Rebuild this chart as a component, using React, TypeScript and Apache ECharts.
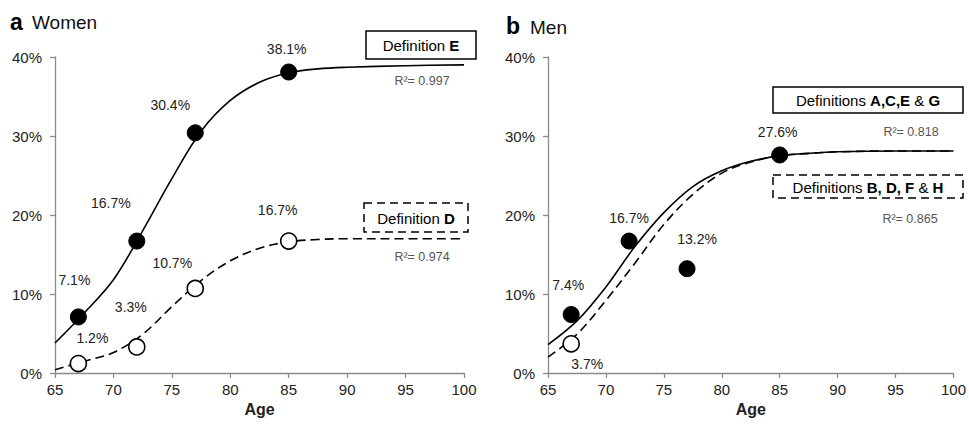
import React, { useEffect, useRef } from "react";
import * as echarts from "echarts";

// Fitted curve sample ages and read-off fitted values (%)
const curveAge = [65, 67.5, 70, 72.5, 75, 77.5, 80, 82.5, 85, 87.5, 90, 95, 100];
const womenFitE = [3.8, 7.6, 11.8, 18.0, 24.6, 30.6, 34.5, 36.8, 38.0, 38.5, 38.7, 38.9, 39.0];
const womenFitD = [0.4, 1.5, 2.6, 4.9, 8.4, 11.7, 14.2, 15.8, 16.6, 16.9, 17.0, 17.0, 17.0];
const menFitSolid = [3.6, 6.6, 10.9, 16.0, 20.3, 23.6, 25.6, 26.8, 27.5, 27.8, 28.0, 28.1, 28.1];
const menFitDashed = [2.0, 4.9, 9.2, 13.9, 18.8, 22.6, 25.3, 26.7, 27.5, 27.8, 28.0, 28.1, 28.1];

// Observed points (%)
const womenAge = [67, 72, 77, 85];
const womenE = [7.1, 16.7, 30.4, 38.1];
const womenD = [1.2, 3.3, 10.7, 16.7];
const menAge = [67, 72, 77, 85];
const menFilled = [7.4, 16.7, 13.2, 27.6];
const menHollowAge = [67];
const menHollow = [3.7];

// Axis ticks
const ageMin = 65;
const ageMax = 100;
const ageStep = 5;
const pctMax = 40;
const pctStep = 10;

// Label offsets (style)
const womenEOffsets = [[-4, -37], [-26, -38], [-25, -28], [-2, -23]];
const womenDOffsets = [[14, -26], [-6, -40], [-23, -25], [-11, -31]];
const menFilledOffsets = [[-3, -30], [0, -23], [10, -30], [-2, -23]];
const menHollowOffsets = [[16, 20]];

const FONT = "Arial, 'Liberation Sans', sans-serif";
const TXT = "#222";

function zip(xs: number[], ys: number[]) {
  return xs.map((x, i) => [x, ys[i]]);
}

function pointData(xs: number[], ys: number[], offs: number[][]) {
  return xs.map((x, i) => ({
    value: [x, ys[i]],
    label: {
      show: true,
      position: "inside",
      offset: offs[i],
      formatter: ys[i].toFixed(1) + "%",
      color: TXT,
      fontSize: 14,
      fontFamily: FONT,
    },
  }));
}

function xAxis(gridIndex: number) {
  return {
    type: "value",
    gridIndex,
    min: ageMin,
    max: ageMax,
    interval: ageStep,
    name: "Age",
    nameLocation: "middle",
    nameGap: 27,
    nameTextStyle: { fontSize: 16, fontWeight: "bold", color: TXT, fontFamily: FONT },
    axisLine: { show: true, onZero: false, lineStyle: { color: "#8a8a8a", width: 1.3 } },
    axisTick: { show: true, inside: false, length: 5, lineStyle: { color: "#8a8a8a", width: 1.3 } },
    axisLabel: { fontSize: 15, color: TXT, margin: 9, fontFamily: FONT },
    splitLine: { show: false },
  };
}

function yAxis(gridIndex: number) {
  return {
    type: "value",
    gridIndex,
    min: 0,
    max: pctMax,
    interval: pctStep,
    axisLine: { show: true, lineStyle: { color: "#8a8a8a", width: 1.3 } },
    axisTick: { show: true, inside: false, length: 5, lineStyle: { color: "#8a8a8a", width: 1.3 } },
    axisLabel: { fontSize: 15, color: TXT, margin: 13, fontFamily: FONT, formatter: "{value}%" },
    splitLine: { show: false },
  };
}

function fitLine(xIdx: number, ys: number[], dashed: boolean) {
  return {
    type: "line",
    xAxisIndex: xIdx,
    yAxisIndex: xIdx,
    data: zip(curveAge, ys),
    smooth: 0.35,
    showSymbol: false,
    symbol: "none",
    silent: true,
    z: 2,
    lineStyle: { color: "#000", width: 1.6, type: dashed ? [9, 5] : "solid" },
  };
}

function scatter(xIdx: number, xs: number[], ys: number[], offs: number[][], filled: boolean) {
  return {
    type: "scatter",
    xAxisIndex: xIdx,
    yAxisIndex: xIdx,
    data: pointData(xs, ys, offs),
    symbol: "circle",
    symbolSize: 16,
    z: 5,
    itemStyle: filled
      ? { color: "#000", borderColor: "#000", borderWidth: 1, opacity: 1 }
      : { color: "#fff", borderColor: "#000", borderWidth: 1.6, opacity: 1 },
  };
}

function boxText(parts: [string, boolean][], x: number, y: number) {
  const text = parts.map(([t, b]) => `{${b ? "b" : "r"}|${t}}`).join("");
  return {
    type: "text",
    x,
    y,
    z: 20,
    style: {
      text,
      align: "center",
      verticalAlign: "middle",
      rich: {
        r: { fontSize: 15, fontFamily: FONT, fill: "#000", color: "#000" },
        b: { fontSize: 15, fontFamily: FONT, fontWeight: "bold", fill: "#000", color: "#000" },
      },
    },
  };
}

function rect(x: number, y: number, w: number, h: number, dashed: boolean) {
  return {
    type: "rect",
    z: 19,
    shape: { x, y, width: w, height: h },
    style: {
      fill: "#fff",
      stroke: "#000",
      lineWidth: 1.5,
      lineDash: dashed ? [8, 5] : null,
    },
  };
}

function plainText(text: string, x: number, y: number, size: number, color: string, bold = false, align = "center") {
  return {
    type: "text",
    x,
    y,
    z: 20,
    style: {
      text,
      fill: color,
      fontSize: size,
      fontFamily: FONT,
      fontWeight: bold ? "bold" : "normal",
      align,
      verticalAlign: "middle",
    },
  };
}

export default function App() {
  const ref = useRef<HTMLDivElement>(null);
  useEffect(() => {
    document.body.style.margin = "0";
    const chart = echarts.init(ref.current!, null, { renderer: "svg" });
    chart.setOption({
      animation: false,
      backgroundColor: "#fff",
      textStyle: { fontFamily: FONT },
      grid: [
        { left: 55, top: 57, width: 409, height: 316 },
        { left: 548, top: 57, width: 410, height: 316 },
      ],
      xAxis: [xAxis(0), xAxis(1)],
      yAxis: [yAxis(0), yAxis(1)],
      series: [
        fitLine(0, womenFitE, false),
        fitLine(0, womenFitD, true),
        scatter(0, womenAge, womenE, womenEOffsets, true),
        scatter(0, womenAge, womenD, womenDOffsets, false),
        fitLine(1, menFitSolid, false),
        fitLine(1, menFitDashed, true),
        scatter(1, menHollowAge, menHollow, menHollowOffsets, false),
        scatter(1, menAge, menFilled, menFilledOffsets, true),
      ],
      graphic: [
        plainText("a", 10, 22, 23, "#000", true, "left"),
        plainText("Women", 32, 22, 19, "#111", false, "left"),
        plainText("b", 506, 26, 23, "#000", true, "left"),
        plainText("Men", 530, 27, 19, "#111", false, "left"),
        rect(366, 31, 110, 28, false),
        boxText([["Definition ", false], ["E", true]], 421, 45),
        plainText("R²= 0.997", 422, 81, 12.5, "#555"),
        rect(364, 203, 104, 29, true),
        boxText([["Definition ", false], ["D", true]], 416, 218),
        plainText("R²= 0.974", 422, 257, 12.5, "#555"),
        rect(773, 87, 190, 26, false),
        boxText([["Definitions ", false], ["A,C,E", true], [" & ", false], ["G", true]], 868, 100.5),
        plainText("R²= 0.818", 911, 132, 12.5, "#555"),
        rect(773, 175, 190, 23, true),
        boxText([["Definitions ", false], ["B, D, F", true], [" & ", false], ["H", true]], 868, 187),
        plainText("R²= 0.865", 910, 219, 12.5, "#555"),
      ],
    });
    return () => chart.dispose();
  }, []);
  return <div ref={ref} style={{ width: 969, height: 425 }} />;
}
